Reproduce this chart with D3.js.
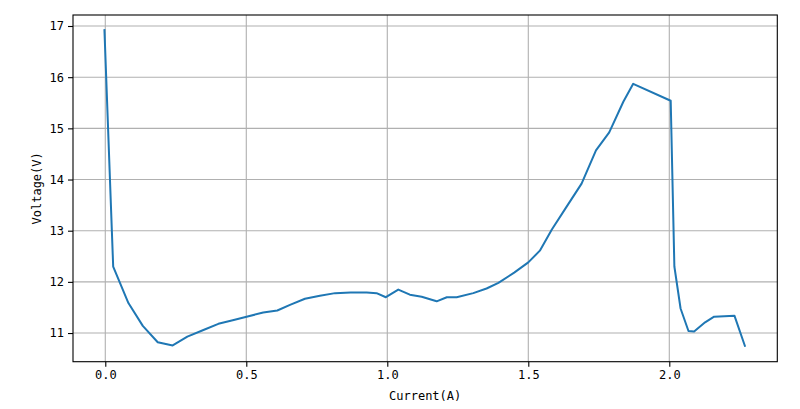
<!DOCTYPE html>
<html><head><meta charset="utf-8">
<script src="https://cdn.jsdelivr.net/npm/d3@7/dist/d3.min.js"></script>
<style>body{margin:0;background:#fff}svg{display:block}text{font-family:"DejaVu Sans Mono","Liberation Mono",monospace;}</style>
</head><body>
<svg id="c" width="800" height="409"></svg>
<script>
const current = [-0.003,0.028,0.082,0.133,0.186,0.239,0.291,0.348,0.401,0.452,0.501,0.560,0.610,0.655,0.708,0.761,0.815,0.870,0.927,0.962,0.995,1.039,1.080,1.122,1.175,1.211,1.246,1.305,1.352,1.394,1.450,1.500,1.541,1.583,1.636,1.689,1.740,1.787,1.837,1.872,2.005,2.018,2.040,2.068,2.088,2.127,2.159,2.231,2.268];
const voltage = [16.92,12.30,11.586,11.14,10.82,10.758,10.93,11.06,11.18,11.25,11.32,11.40,11.44,11.55,11.67,11.73,11.78,11.79,11.79,11.78,11.70,11.85,11.75,11.71,11.62,11.70,11.70,11.78,11.87,11.98,12.18,12.38,12.61,13.02,13.47,13.92,14.57,14.92,15.52,15.87,15.54,12.30,11.48,11.04,11.03,11.21,11.32,11.34,10.75];
const xTicks = [0.0,0.5,1.0,1.5,2.0];
const yTicks = [11,12,13,14,15,16,17];

const L=73,R=777.3,T=15,B=361.7;
const svg=d3.select("#c");
const x=d3.scaleLinear().domain([-0.1145,2.383]).range([L,R]);
const y=d3.scaleLinear().domain([10.44,17.215]).range([B,T]);

// grid
svg.append("g").selectAll("line").data(xTicks).join("line")
 .attr("x1",d=>x(d)).attr("x2",d=>x(d)).attr("y1",T).attr("y2",B)
 .attr("stroke","#b0b0b0").attr("stroke-width",1.1);
svg.append("g").selectAll("line").data(yTicks).join("line")
 .attr("y1",d=>y(d)).attr("y2",d=>y(d)).attr("x1",L).attr("x2",R)
 .attr("stroke","#b0b0b0").attr("stroke-width",1.1);

// line
const pts=current.map((c,i)=>[c,voltage[i]]);
svg.append("path").datum(pts)
 .attr("d",d3.line().x(d=>x(d[0])).y(d=>y(d[1])))
 .attr("fill","none").attr("stroke","#1f77b4").attr("stroke-width",2).attr("stroke-linejoin","round").attr("stroke-linecap","square");

// axes
const xa=svg.append("g").attr("transform",`translate(0,${B})`)
 .call(d3.axisBottom(x).tickValues(xTicks).tickFormat(d3.format(".1f")).tickSize(5).tickPadding(4));
const ya=svg.append("g").attr("transform",`translate(${L},0)`)
 .call(d3.axisLeft(y).tickValues(yTicks).tickFormat(d3.format("d")).tickSize(5).tickPadding(4));
[xa,ya].forEach(a=>{a.select(".domain").remove();a.selectAll("text").attr("font-size",12).attr("fill","#000").style("font-family",'"DejaVu Sans Mono",monospace');a.selectAll("line").attr("stroke","#000").attr("stroke-width",1.1);});

svg.append("rect").attr("x",L).attr("y",T).attr("width",R-L).attr("height",B-T)
 .attr("fill","none").attr("stroke","#000").attr("stroke-width",1.1);

svg.append("text").attr("x",(L+R)/2).attr("y",400).attr("text-anchor","middle").attr("font-size",12).text("Current(A)");
svg.append("text").attr("transform",`translate(41,${(T+B)/2}) rotate(-90)`).attr("text-anchor","middle").attr("font-size",12).text("Voltage(V)");
</script></body></html>
